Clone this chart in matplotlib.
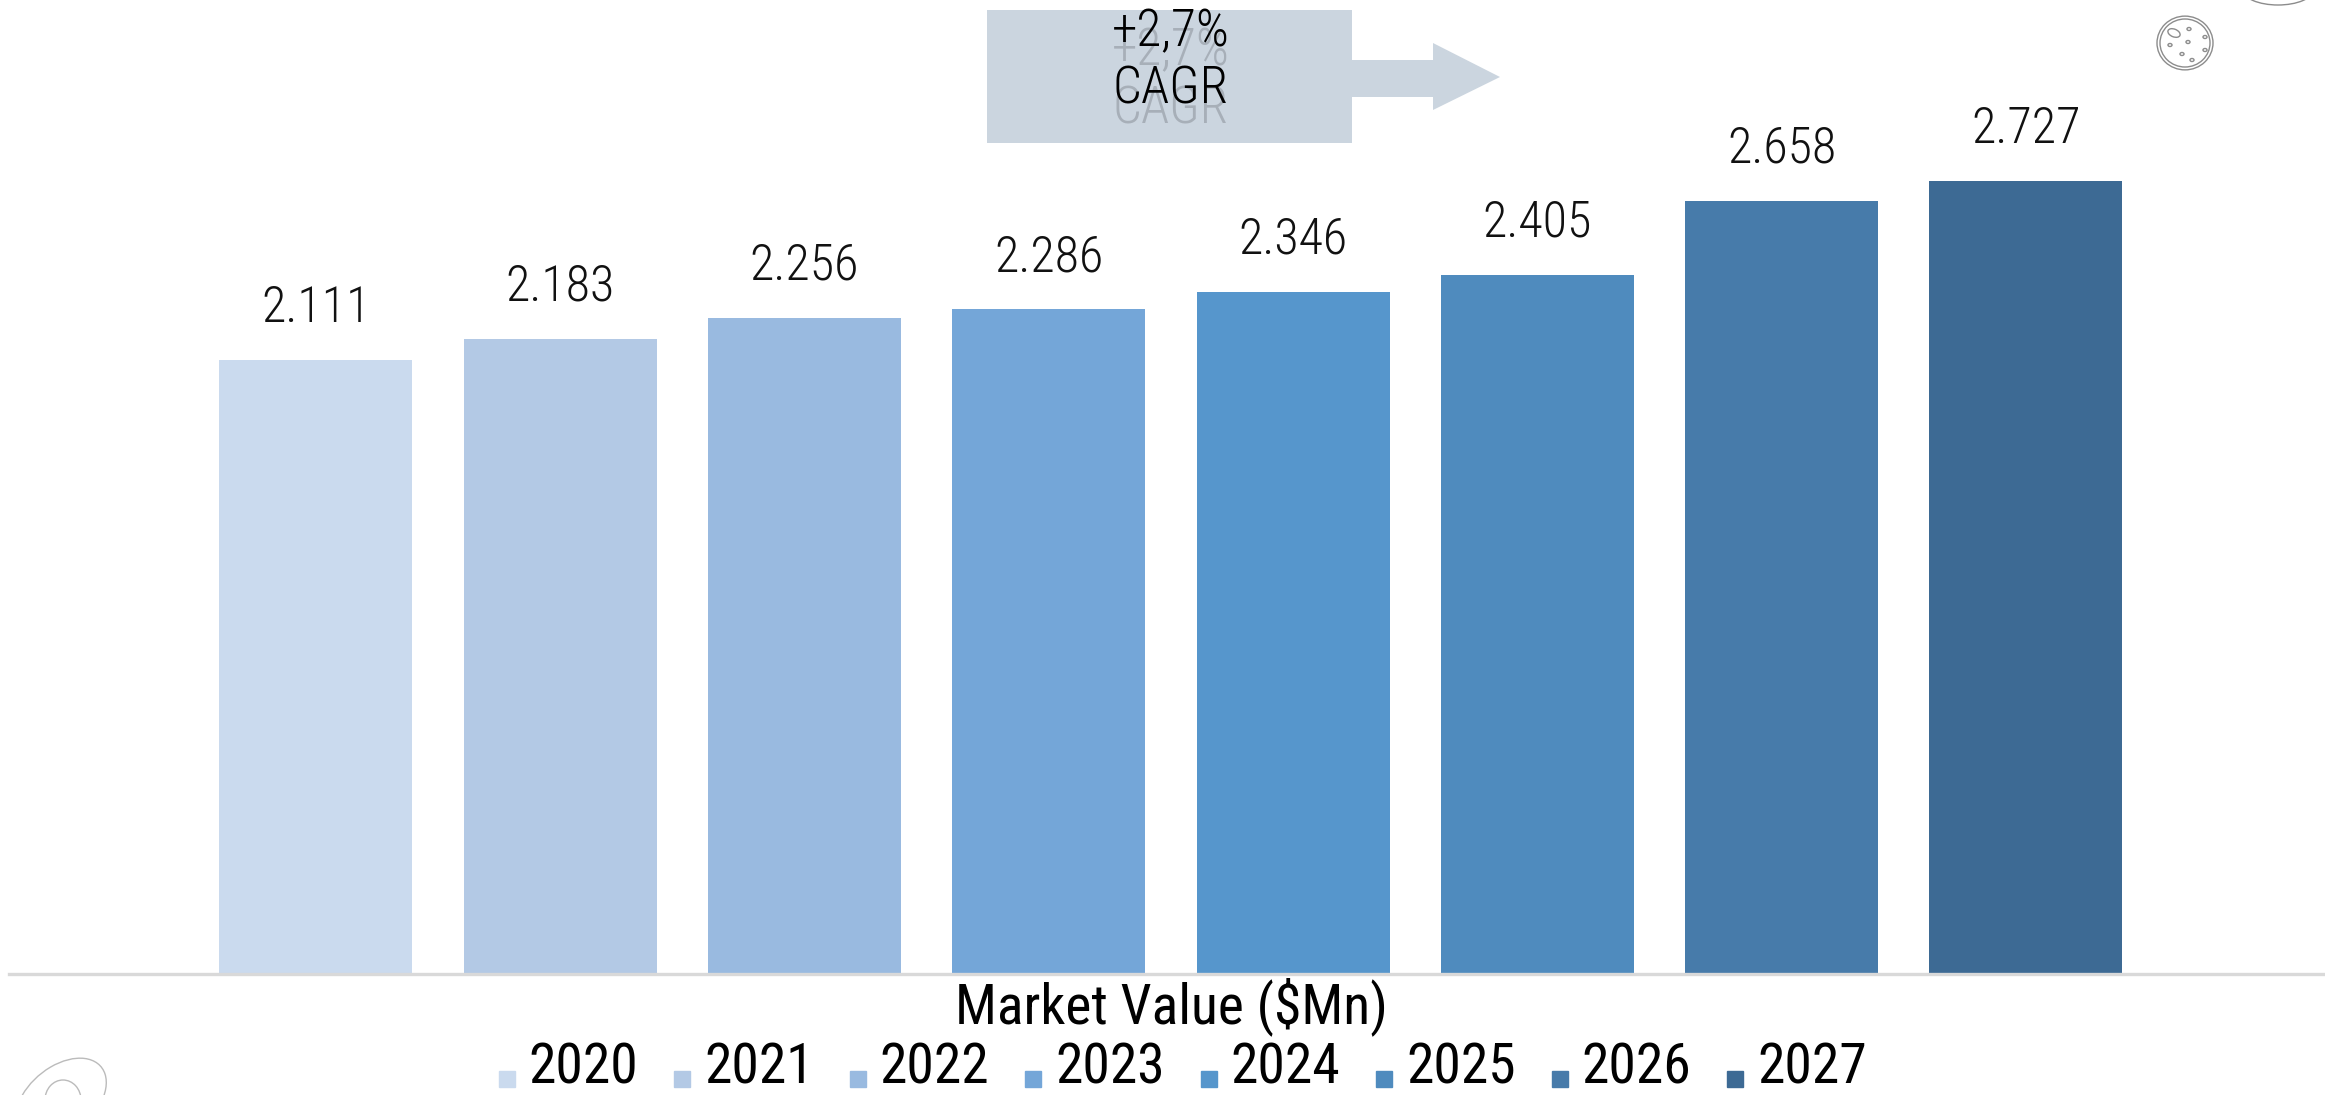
import matplotlib
matplotlib.use("Agg")
import matplotlib.pyplot as plt
from matplotlib.patches import Rectangle, Polygon, Ellipse
from matplotlib.legend_handler import HandlerPatch
import numpy as np

# ---- data ----
years = ["2020", "2021", "2022", "2023", "2024", "2025", "2026", "2027"]
market_value = [2.111, 2.183, 2.256, 2.286, 2.346, 2.405, 2.658, 2.727]
bar_colors = ["#CADAEE", "#B3C9E5", "#99BAE0", "#74A6D8",
              "#5696CC", "#4F8BBE", "#477BAA", "#3D6A94"]
cagr_text = "+2,7%\nCAGR"
axis_title = "Market Value ($Mn)"

W, H = 2325, 1095
COND = ["Roboto Condensed", "DejaVu Sans"]

fig = plt.figure(figsize=(W / 100, H / 100), dpi=100)


def fx(x):
    return x / W


def fy(y):
    return 1 - y / H


# axes spanning the full width, baseline near the bottom
ax = fig.add_axes([fx(9), fy(974), 1 - fx(9), fy(0) - fy(974)])
x = np.arange(len(years))
ax.bar(x, market_value, width=0.79, color=bar_colors, zorder=2)
ax.set_xlim(-1.256, 8.224)
ax.set_ylim(0, 974 / 290.8)

for s in ["top", "right", "left"]:
    ax.spines[s].set_visible(False)
ax.spines["bottom"].set_color("#D9D9D9")
ax.spines["bottom"].set_linewidth(2.4)
ax.set_xticks([])
ax.set_yticks([])
ax.patch.set_alpha(0)

for xi, v in zip(x, market_value):
    ax.annotate(f"{v:.3f}", (xi, v), xytext=(0, 27.5), textcoords="offset points",
                ha="center", va="baseline", fontsize=36, fontweight=300,
                family=COND, color="#111111")

# category title under the axis, centred on the bar group
fig.text(fx(1171), fy(1023), axis_title, ha="center", va="baseline",
         fontsize=40, family=COND, color="#000000")


# legend with small squares sitting at the text baseline
def small_square(legend, orig_handle, xdescent, ydescent, width, height, fontsize):
    return Rectangle((-xdescent, -ydescent - 2.2), 11.5, 11.5)


handles = [Rectangle((0, 0), 1, 1, color=c) for c in bar_colors]
fig.legend(handles, years, loc="lower center", bbox_to_anchor=(fx(1183), 0.0),
           ncol=len(years), frameon=False,
           prop={"family": COND, "size": 40},
           handlelength=0.29, handleheight=0.7, handletextpad=0.25,
           columnspacing=0.645, borderpad=0, borderaxespad=0,
           handler_map={Rectangle: HandlerPatch(patch_func=small_square)})

# CAGR callout: box with arrow pointing right
box_color = "#CBD5DF"
fig.add_artist(Rectangle((fx(987), fy(143)), fx(1352) - fx(987), fy(10) - fy(143),
                         transform=fig.transFigure, color=box_color, lw=0, zorder=1))
arrow_pts = [(1352, 60), (1433, 60), (1433, 43), (1500, 77),
             (1433, 110), (1433, 97), (1352, 97)]
fig.add_artist(Polygon([(fx(a), fy(b)) for a, b in arrow_pts], closed=True,
                       transform=fig.transFigure, color=box_color, lw=0, zorder=1))
line_y = [46, 104]
for txt, yb in zip(cagr_text.split("\n"), line_y):
    fig.text(fx(1171), fy(yb + 19), txt, ha="center", va="baseline", fontsize=37,
             fontweight=300, family=COND, color="#8A9099", alpha=0.55, zorder=2)
    fig.text(fx(1171), fy(yb), txt, ha="center", va="baseline", fontsize=37,
             fontweight=300, family=COND, color="#000000", zorder=3)

# decorative doodles
doodle = dict(transform=fig.transFigure, fill=False, lw=1.0, zorder=1)
cx, cy = 2185, 43
for r in (28, 25):
    fig.add_artist(Ellipse((fx(cx), fy(cy)), 2 * r / W, 2 * r * 0.96 / H,
                           ec="#8C8C8C", **doodle))
fig.add_artist(Ellipse((fx(2174), fy(33)), 11 / W, 9 / H, angle=20, ec="#8C8C8C", **doodle))
for dx, dy in [(2189, 29), (2205, 37), (2170, 45), (2188, 42), (2205, 50),
               (2182, 54), (2192, 60)]:
    fig.add_artist(Ellipse((fx(dx), fy(dy)), 4 / W, 3 / H, ec="#8C8C8C", **doodle))
fig.add_artist(Ellipse((fx(2278), fy(-10)), 70 / W, 30 / H, ec="#8C8C8C", **doodle))
fig.add_artist(Ellipse((fx(61), fy(1100)), 80 / W, 86 / H, angle=-15, ec="#BBBBBB", **doodle))
fig.add_artist(Ellipse((fx(63), fy(1100)), 36 / W, 40 / H, ec="#BBBBBB", **doodle))

fig.savefig("out.png", dpi=100)
